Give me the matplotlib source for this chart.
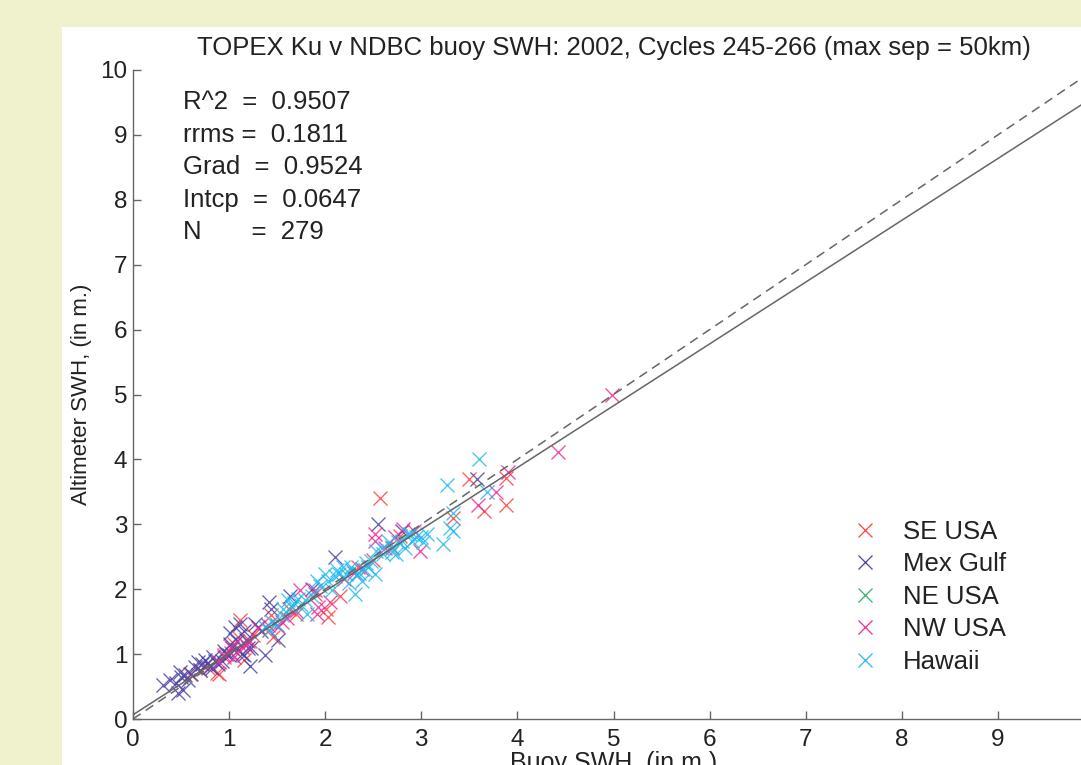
import matplotlib
matplotlib.use("Agg")
import matplotlib.pyplot as plt
from matplotlib.patches import Rectangle
from matplotlib.lines import Line2D

plt.rcParams['font.family'] = ['Liberation Sans', 'DejaVu Sans']

title = "TOPEX Ku v NDBC buoy SWH: 2002, Cycles 245-266 (max sep = 50km)"
xlabel = "Buoy SWH, (in m.)"
ylabel = "Altimeter SWH, (in m.)"
stats_lines = ["R^2  =  0.9507", "rrms =  0.1811", "Grad  =  0.9524",
               "Intcp  =  0.0647", "N       =  279"]
grad = 0.9524
intcp = 0.0647
xticks = [0, 1, 2, 3, 4, 5, 6, 7, 8, 9]
yticks = [0, 1, 2, 3, 4, 5, 6, 7, 8, 9, 10]

regions = ["SE USA", "Mex Gulf", "NE USA", "NW USA", "Hawaii"]
colors = ["#ff4040", "#4a44a6", "#2db36b", "#f0289a", "#22bbf0"]

se_x = [0.59, 0.78, 0.87, 0.90, 0.95, 1.02, 1.05, 1.09, 1.11, 1.16, 1.20, 1.41,
        1.44, 1.46, 1.50, 1.70, 1.89, 2.01, 2.03, 2.15, 2.34, 2.57, 2.69, 2.78,
        3.33, 3.50, 3.65, 3.88, 3.88, 0.70, 1.25, 1.62, 2.50]
se_y = [0.70, 0.78, 0.71, 0.70, 0.95, 1.01, 1.15, 1.27, 1.52, 0.91, 1.20, 1.37,
        1.60, 1.27, 1.45, 1.62, 1.93, 1.70, 1.57, 1.90, 2.34, 3.40, 2.64, 2.82,
        3.10, 3.70, 3.20, 3.30, 3.72, 0.75, 1.30, 1.70, 2.45]

mex_x = [0.31, 0.38, 0.45, 0.47, 0.50, 0.52, 0.54, 0.49, 0.60, 0.65, 0.68, 0.72,
         0.75, 0.78, 0.80, 0.82, 0.83, 0.88, 0.93, 0.95, 0.97, 1.00, 1.01, 1.01,
         1.03, 1.06, 1.09, 1.11, 1.13, 1.16, 1.18, 1.22, 1.23, 1.27, 1.30, 1.33,
         1.37, 1.41, 1.44, 1.51, 1.63, 1.86, 2.10, 2.55, 2.80, 3.58, 0.57, 0.70,
         0.85, 1.08, 1.15, 1.20]
mex_y = [0.53, 0.60, 0.55, 0.40, 0.65, 0.45, 0.68, 0.73, 0.70, 0.80, 0.88, 0.85,
         0.91, 0.86, 0.80, 0.78, 0.96, 0.85, 0.90, 1.05, 1.00, 0.98, 1.32, 1.16,
         1.10, 1.42, 1.06, 1.47, 1.00, 0.98, 1.21, 0.81, 1.09, 1.47, 1.42, 1.35,
         0.98, 1.80, 1.70, 1.21, 1.90, 2.00, 2.50, 3.00, 2.90, 3.70, 0.60, 0.75,
         0.90, 1.20, 1.35, 1.10]

ne_x = []
ne_y = []

nw_x = [0.89, 1.02, 1.05, 1.13, 1.18, 1.22, 1.30, 1.51, 1.60, 1.70, 1.74, 1.89,
        1.91, 1.93, 2.05, 2.20, 2.38, 2.52, 2.52, 2.62, 2.73, 2.81, 2.92, 2.99,
        3.59, 3.78, 3.90, 4.42, 4.98, 0.95, 1.40, 1.55, 2.30]
nw_y = [0.88, 1.11, 0.95, 1.11, 1.14, 1.20, 1.40, 1.42, 1.55, 1.67, 1.98, 1.98,
        1.62, 1.72, 1.80, 2.15, 2.31, 2.85, 2.74, 2.64, 2.80, 2.92, 2.90, 2.59,
        3.30, 3.50, 3.80, 4.11, 5.00, 0.98, 1.45, 1.50, 2.25]

hi_x = [1.37, 1.42, 1.50, 1.56, 1.61, 1.65, 1.72, 1.79, 1.81, 1.86, 1.91, 2.00,
        2.03, 2.07, 2.14, 2.19, 2.22, 2.27, 2.31, 2.33, 2.38, 2.41, 2.45, 2.48,
        2.53, 2.52, 2.59, 2.66, 2.69, 2.76, 2.74, 2.83, 2.86, 2.90, 2.95, 3.02,
        3.06, 3.23, 3.27, 3.33, 3.33, 3.30, 3.60, 3.68, 1.45, 1.55, 1.68, 1.75,
        1.95, 2.10, 2.12, 2.25, 2.28, 2.35, 2.42, 2.60, 2.70, 2.80, 2.88, 3.00]
hi_y = [1.42, 1.37, 1.45, 1.70, 1.83, 1.72, 1.85, 1.83, 1.62, 1.90, 2.13, 2.23,
        2.13, 1.98, 2.23, 2.34, 2.23, 2.34, 1.93, 2.23, 2.13, 2.29, 2.34, 2.44,
        2.59, 2.23, 2.64, 2.72, 2.57, 2.72, 2.54, 2.64, 2.85, 2.74, 2.80, 2.72,
        2.85, 2.69, 3.60, 3.18, 2.90, 2.95, 4.00, 3.50, 1.50, 1.60, 1.78, 1.75,
        2.05, 2.20, 2.30, 2.10, 2.30, 2.25, 2.40, 2.55, 2.65, 2.75, 2.85, 2.80]

series_x = [se_x, mex_x, ne_x, nw_x, hi_x]
series_y = [se_y, mex_y, ne_y, nw_y, hi_y]

W, H = 1081, 765
fig = plt.figure(figsize=(W / 100, H / 100), dpi=100)
fig.patch.set_facecolor("#eff2cd")
fig.patches.append(Rectangle((62 / W, 0), 1 - 62 / W, (H - 27) / H,
                             transform=fig.transFigure, facecolor="white",
                             edgecolor="none", zorder=-10))

ax = fig.add_axes([133 / W, (H - 719) / H, 961 / W, 649 / H])
ax.set_facecolor("none")
ax.set_xlim(0, 10)
ax.set_ylim(0, 10)
ax.set_xticks(xticks)
ax.set_yticks(yticks)
for s in ["top", "right"]:
    ax.spines[s].set_visible(False)
for s in ["left", "bottom"]:
    ax.spines[s].set_color("#666666")
    ax.spines[s].set_linewidth(1.0)
ax.tick_params(direction="in", length=6, width=1.0, color="#666666",
               labelsize=17.5, labelcolor="#222222")
ax.tick_params(axis="x", pad=7)
ax.tick_params(axis="y", pad=4)

for xs, ys, c in zip(series_x, series_y, colors):
    ax.plot(xs, ys, linestyle="none", marker="x", markersize=10.5,
            markeredgewidth=0.95, color=c, alpha=0.85, clip_on=False)

ax.plot([0, 10], [0, 10], linestyle=(0, (6, 4)), color="#666666", lw=1.1)
ax.plot([0, 10], [intcp, intcp + grad * 10], linestyle="-", color="#666666", lw=1.1)

ax.set_title(title, fontsize=18.5, color="#222222", pad=11)
ax.set_xlabel(xlabel, fontsize=18, color="#222222", labelpad=0)
ax.set_ylabel(ylabel, fontsize=16, color="#222222", labelpad=6)

for i, line in enumerate(stats_lines):
    ax.text(0.52, 9.5 - 0.5 * i, line, fontsize=18.5, color="#222222",
            va="center", ha="left")

handles = [Line2D([], [], linestyle="none", marker="x", markersize=9.5,
                  markeredgewidth=0.9, color=c) for c in colors]
ax.legend(handles, regions, loc="upper left", frameon=False, fontsize=18.5,
          bbox_to_anchor=(850 / W, 1 - 520 / H), bbox_transform=fig.transFigure,
          handlelength=1.15, handletextpad=0.9, labelspacing=0.33,
          borderaxespad=0, borderpad=0, labelcolor="#222222")

fig.savefig("out.png", dpi=100, facecolor=fig.get_facecolor())
